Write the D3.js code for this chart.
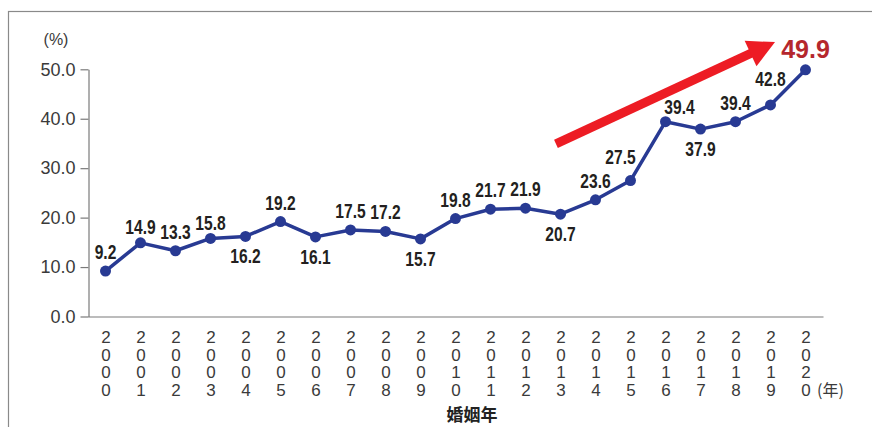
<!DOCTYPE html>
<html>
<head>
<meta charset="utf-8">
<script src="https://cdn.jsdelivr.net/npm/d3@7"></script>
<style>
  body { margin: 0; background: #fff; }
  svg { display: block; }
</style>
</head>
<body>
<script>
// chart data
const years = ["2000","2001","2002","2003","2004","2005","2006","2007","2008","2009","2010",
               "2011","2012","2013","2014","2015","2016","2017","2018","2019","2020"];
const rates = [9.2, 14.9, 13.3, 15.8, 16.2, 19.2, 16.1, 17.5, 17.2, 15.7, 19.8,
               21.7, 21.9, 20.7, 23.6, 27.5, 39.4, 37.9, 39.4, 42.8, 49.9];
const yTicks = [0, 10, 20, 30, 40, 50];

// label placement (above / below the point, plus small nudges)
const labelSide = ["a","a","a","a","b","a","b","a","a","b","a",
                   "a","a","b","a","a","a","b","a","a","a"];
const labelNudge = { 1: [0, 3], 3: [0, 4], 15: [-10, -5], 16: [14, 4], 19: [0, -7] };

// trend arrow, in data space (year index, %)
const arrowFrom = [12.87, 34.9];
const arrowTo = [19.13, 55.5];

const width = 872, height = 427;

const svg = d3.select("body").append("svg")
    .attr("width", width)
    .attr("height", height);

// frame (only top and left edges are visible)
svg.append("rect")
    .attr("x", 8.5).attr("y", 11.5)
    .attr("width", 1000).attr("height", 1000)
    .attr("fill", "none")
    .attr("stroke", "#8a8a8a")
    .attr("stroke-width", 1.2);

const x = d3.scalePoint().domain(years).range([88, 823]).padding(0.5);
const xi = d3.scaleLinear().domain([0, years.length - 1]).range([x(years[0]), x(years[years.length - 1])]);
const y = d3.scaleLinear().domain([0, 50]).range([316.5, 69.3]);

const axisColor = "#7a7a7a";
const textColor = "#3a3a3a";
const thinFont = "'Liberation Sans', Arial, Helvetica, sans-serif";

// y axis
const yAxis = svg.append("g")
    .attr("transform", "translate(88.5,0)")
    .call(d3.axisLeft(y).tickValues(yTicks).tickFormat(d3.format(".1f"))
        .tickSize(8).tickSizeOuter(0).tickPadding(5));
yAxis.select(".domain").attr("stroke", axisColor).attr("stroke-width", 1.2);
yAxis.selectAll(".tick line").attr("stroke", axisColor).attr("stroke-width", 1.2);
yAxis.selectAll(".tick text")
    .attr("fill", textColor)
    .style("font-family", thinFont)
    .style("font-size", "18px");

// x axis
const xAxis = svg.append("g")
    .attr("transform", "translate(0,316.5)")
    .call(d3.axisBottom(x).tickSize(0).tickSizeOuter(0).tickFormat(""));
xAxis.select(".domain").attr("stroke", axisColor).attr("stroke-width", 1.2);

// vertical year labels, one digit per row
xAxis.selectAll(".tick text").remove();
xAxis.selectAll(".tick").each(function (d) {
    const t = d3.select(this).append("text")
        .attr("fill", textColor)
        .attr("text-anchor", "middle")
        .style("font-family", thinFont)
        .style("font-size", "17px");
    d.split("").forEach((ch, i) => {
        t.append("tspan").attr("x", 0).attr("y", 26.5 + i * 17.5).text(ch);
    });
});

// unit labels
svg.append("text")
    .attr("x", 56).attr("y", 45)
    .attr("text-anchor", "middle")
    .attr("fill", textColor)
    .style("font-family", thinFont)
    .style("font-size", "16px")
    .text("(%)");

svg.append("text")
    .attr("x", 817).attr("y", 396)
    .attr("fill", textColor)
    .style("font-family", "'Noto Sans CJK JP', sans-serif")
    .style("font-size", "16px")
    .text("(年)");

svg.append("text")
    .attr("x", 472).attr("y", 421)
    .attr("text-anchor", "middle")
    .attr("fill", "#222")
    .style("font-family", "'Noto Sans CJK JP', sans-serif")
    .style("font-weight", "bold")
    .style("font-size", "17px")
    .text("婚姻年");

// trend arrow
const ax0 = xi(arrowFrom[0]), ay0 = y(arrowFrom[1]);
const ax1 = xi(arrowTo[0]), ay1 = y(arrowTo[1]);
const ang = Math.atan2(ay1 - ay0, ax1 - ax0);
const headLen = 27, headHalf = 14;
const bx = ax1 - headLen * Math.cos(ang), by = ay1 - headLen * Math.sin(ang);
svg.append("line")
    .attr("x1", ax0).attr("y1", ay0)
    .attr("x2", bx + 2 * Math.cos(ang)).attr("y2", by + 2 * Math.sin(ang))
    .attr("stroke", "#ed1c24")
    .attr("stroke-width", 9);
svg.append("path")
    .attr("d", d3.line()([
        [ax1, ay1],
        [bx - headHalf * Math.sin(ang), by + headHalf * Math.cos(ang)],
        [bx + headHalf * Math.sin(ang), by - headHalf * Math.cos(ang)]
    ]) + "Z")
    .attr("fill", "#ed1c24");

// data line
const lineColor = "#283a93";
svg.append("path")
    .datum(rates)
    .attr("fill", "none")
    .attr("stroke", lineColor)
    .attr("stroke-width", 3.5)
    .attr("stroke-linejoin", "round")
    .attr("d", d3.line().x((d, i) => x(years[i])).y(d => y(d)));

svg.selectAll(".dot")
    .data(rates)
    .enter()
    .append("circle")
    .attr("cx", (d, i) => x(years[i]))
    .attr("cy", d => y(d))
    .attr("r", 5.5)
    .attr("fill", lineColor);

// value labels (condensed bold look via horizontal squeeze)
const last = rates.length - 1;
svg.selectAll(".value")
    .data(rates.slice(0, last))
    .enter()
    .append("text")
    .attr("transform", (d, i) => {
        const tx = x(years[i]) + (labelNudge[i] ? labelNudge[i][0] : 0);
        const ty = y(d) + (labelSide[i] === "a" ? -12 : 27) + (labelNudge[i] ? labelNudge[i][1] : 0);
        return `translate(${tx},${ty}) scale(0.78,1)`;
    })
    .attr("text-anchor", "middle")
    .attr("fill", "#231f20")
    .style("font-family", "'Liberation Sans', Arial, sans-serif")
    .style("font-weight", "bold")
    .style("font-size", "20px")
    .text(d => d.toFixed(1));

svg.append("text")
    .attr("x", x(years[last]))
    .attr("y", y(rates[last]) - 12)
    .attr("text-anchor", "middle")
    .attr("fill", "#b5272d")
    .style("font-family", "'Liberation Sans', Arial, sans-serif")
    .style("font-weight", "bold")
    .style("font-size", "25px")
    .text(rates[last].toFixed(1));
</script>
</body>
</html>
